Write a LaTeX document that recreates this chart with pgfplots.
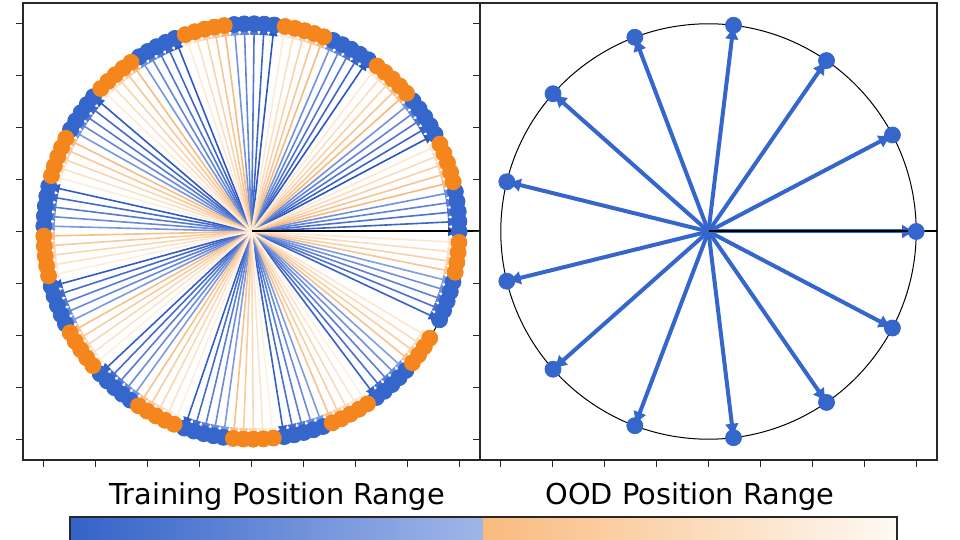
\documentclass[border=0pt]{standalone}
\usepackage{pgfplots}
\pgfplotsset{compat=1.18}
\usepackage{pgfplotstable}
\usetikzlibrary{arrows.meta}
\usepackage{fontspec}
\setmainfont{DejaVu Sans}
\definecolor{bDark}{RGB}{52,98,200}
\definecolor{bLight}{RGB}{160,182,233}
\definecolor{lDark}{RGB}{40,84,192}
\definecolor{lLight}{RGB}{130,158,226}
\definecolor{oDark}{RGB}{250,186,126}
\definecolor{oLight}{RGB}{253,249,243}
\definecolor{qDark}{RGB}{247,184,124}
\definecolor{qLight}{RGB}{252,242,230}
\definecolor{bMark}{RGB}{52,102,204}
\definecolor{oMark}{RGB}{245,134,30}
\definecolor{frame}{RGB}{40,40,40}
\pgfplotsset{
  panel/.style={scale only axis, width=228.5pt, height=228.5pt,
    xmin=-1.1,xmax=1.1,ymin=-1.1,ymax=1.1,
    xtick={-1,-0.75,-0.5,-0.25,0,0.25,0.5,0.75,1},
    ytick={-1,-0.75,-0.5,-0.25,0,0.25,0.5,0.75,1},
    xticklabels={}, yticklabels={},
    tick align=outside, tick pos=left, major tick length=3.5pt,
    every tick/.style={frame, line width=0.7pt},
    axis line style={frame, line width=0.8pt},
    anchor=south west},
}
\begin{document}
\pgfplotstableread{
a r
0.00 1
27.91 1
55.81 1
83.72 1
111.62 1
139.53 1
167.43 1
195.34 1
223.24 1
251.15 1
279.05 1
306.96 1
334.86 1
2.77 1
30.67 1
58.58 1
86.48 1
114.39 1
142.29 1
170.20 1
198.10 1
226.01 1
253.91 1
281.82 1
309.72 1
337.63 1
5.53 1
33.44 1
61.34 1
89.25 1
117.15 1
145.06 1
172.96 1
200.87 1
228.77 1
256.68 1
284.58 1
312.49 1
340.39 1
8.30 1
36.20 1
64.11 1
92.01 1
119.92 1
147.82 1
175.73 1
203.63 1
231.54 1
259.44 1
287.35 1
315.25 1
343.16 1
11.06 1
38.97 1
66.87 1
94.78 1
122.68 1
150.59 1
178.49 1
206.40 1
234.30 1
262.21 1
290.11 1
318.02 1
345.92 1
}\train
\pgfplotstableread{
a r
13.83 1
41.73 1
69.64 1
97.54 1
125.45 1
153.35 1
181.26 1
209.16 1
237.07 1
264.97 1
292.88 1
320.78 1
348.69 1
16.59 1
44.50 1
72.40 1
100.31 1
128.21 1
156.12 1
184.02 1
211.93 1
239.83 1
267.74 1
295.64 1
323.55 1
351.45 1
19.36 1
47.26 1
75.17 1
103.07 1
130.98 1
158.88 1
186.79 1
214.69 1
242.60 1
270.50 1
298.41 1
326.31 1
354.22 1
22.12 1
50.03 1
77.93 1
105.84 1
133.74 1
161.65 1
189.55 1
217.46 1
245.36 1
273.27 1
301.17 1
329.08 1
356.98 1
24.89 1
52.79 1
80.70 1
108.60 1
136.51 1
164.41 1
192.32 1
220.22 1
248.13 1
276.03 1
303.94 1
}\ood
\pgfplotstableread{
a r
0.00 1
27.69 1
55.38 1
83.08 1
110.77 1
138.46 1
166.15 1
193.85 1
221.54 1
249.23 1
276.92 1
304.62 1
332.31 1
}\ring
\begin{tikzpicture}
\useasboundingbox (0,0) rectangle (480pt,270pt);
% ---------- left panel ----------
\begin{axis}[panel, at={(11.5pt,40pt)}]
\draw[black, line width=0.5pt] (axis cs:0,0) circle[radius=103.86pt];
\pgfplotsforeachungrouped \i in {0,...,64}{%
  \pgfplotstablegetelem{\i}{a}\of\train \let\ang\pgfplotsretval
  \pgfmathtruncatemacro\pct{100-100*\i/64}%
  \edef\tmp{\noexpand\addplot[data cs=polar, line width=0.8pt, draw=lDark!\pct!lLight, -{Latex[length=5.5pt,width=5pt]}] coordinates {(\ang,0) (\ang,1)};}%
  \tmp
}
\pgfplotsforeachungrouped \i in {0,...,62}{%
  \pgfplotstablegetelem{\i}{a}\of\ood \let\ang\pgfplotsretval
  \pgfmathtruncatemacro\pct{100-100*\i/62}%
  \edef\tmp{\noexpand\addplot[data cs=polar, line width=0.8pt, draw=qDark!\pct!qLight, -{Latex[length=5.5pt,width=5pt]}] coordinates {(\ang,0) (\ang,1)};}%
  \tmp
}
\addplot[data cs=polar, only marks, mark=*, mark size=4pt, mark options={draw=bMark, fill=bMark}] table[x=a, y=r] {\train};
\addplot[data cs=polar, only marks, mark=*, mark size=4pt, mark options={draw=oMark, fill=oMark}] table[x=a, y=r] {\ood};
\addplot[black, line width=1pt] coordinates {(0,0) (1.2,0)};
\end{axis}
% ---------- right panel ----------
\begin{axis}[panel, at={(240pt,40pt)}]
\draw[black, line width=0.5pt] (axis cs:0,0) circle[radius=103.86pt];
\pgfplotsforeachungrouped \i in {0,...,12}{%
  \pgfplotstablegetelem{\i}{a}\of\ring \let\ang\pgfplotsretval
  \edef\tmp{\noexpand\addplot[data cs=polar, line width=2pt, draw=bMark, -{Latex[length=7pt,width=7pt]}] coordinates {(\ang,0) (\ang,1)};}%
  \tmp
}
\addplot[data cs=polar, only marks, mark=*, mark size=4pt, mark options={draw=bMark, fill=bMark}] table[x=a, y=r] {\ring};
\addplot[black, line width=1pt] coordinates {(0,0) (1.2,0)};
\end{axis}
% ---------- colour bar ----------
\node[anchor=base, font=\fontsize{14.4}{17}\selectfont] at (138.5pt,17.5pt) {Training Position Range};
\node[anchor=base, font=\fontsize{14.4}{17}\selectfont] at (345pt,17.5pt) {OOD Position Range};
\shade[left color=bDark, right color=bLight] (35pt,-3pt) rectangle (241.5pt,11.5pt);
\shade[left color=oDark, right color=oLight] (241.5pt,-3pt) rectangle (448.5pt,11.5pt);
\draw[frame, line width=0.8pt] (35pt,-3pt) -- (35pt,11.5pt) -- (448.5pt,11.5pt) -- (448.5pt,-3pt);
\end{tikzpicture}
\end{document}
